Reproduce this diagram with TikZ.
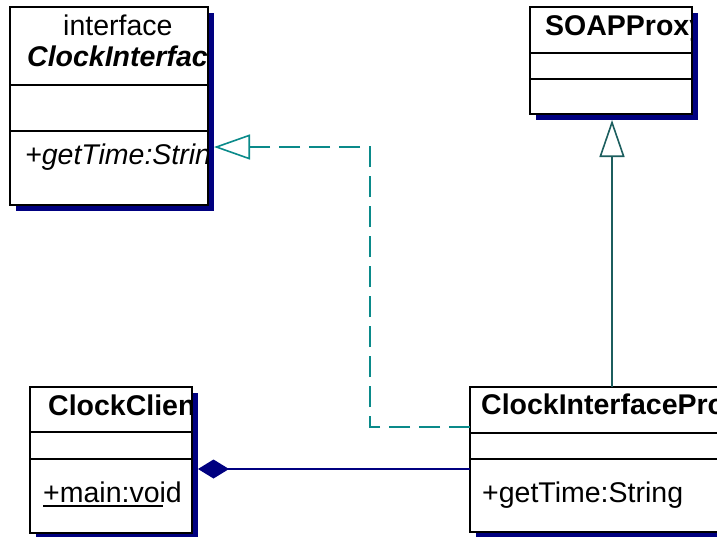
\documentclass[tikz,border=0pt]{standalone}
\usepackage{fontspec}
\setmainfont{Liberation Sans}
\usetikzlibrary{arrows.meta,shadows}

\definecolor{shadownavy}{HTML}{000080}
\definecolor{realteal}{HTML}{0A8A8A}
\definecolor{inhteal}{HTML}{1C5E5E}
\definecolor{compnavy}{HTML}{000080}

\tikzset{
  classbox/.style={draw=black, fill=white, line width=1.9pt, rectangle,
    anchor=north west, inner sep=0pt, outer sep=0pt,
    general shadow={fill=shadownavy, shadow xshift=6pt, shadow yshift=-6pt}},
  divider/.style={draw=black, line width=1.9pt},
  umltext/.style={font=\fontsize{28.5pt}{34pt}\selectfont, inner sep=0pt, anchor=base west},
  realizeline/.style={draw=realteal, line width=1.6pt, dash pattern=on 21pt off 9pt,
    -{Triangle[open, length=36pt, width=25pt, line width=1.6pt]}},
  inheritline/.style={draw=inhteal, line width=1.6pt,
    -{Triangle[open, length=37pt, width=25pt, line width=1.6pt]}},
  compline/.style={draw=compnavy, line width=1.6pt,
    {Diamond[length=31pt, width=19pt]}-}
}

\begin{document}
\begin{tikzpicture}[x=1pt, y=-1pt]
  \clip (0,0) rectangle (717,536);
  \fill[white] (0,0) rectangle (717,536);

  % class boxes
  \node[classbox, minimum width=198pt, minimum height=198pt] (ci) at (10,7) {};
  \node[classbox, minimum width=162pt, minimum height=107pt] (soap) at (530,7) {};
  \node[classbox, minimum width=162pt, minimum height=146pt] (cc) at (30,387) {};
  \node[classbox, minimum width=300pt, minimum height=145pt] (cip) at (470,387) {};

  % compartment dividers
  \draw[divider] ([yshift=-78pt]ci.north west) -- ([yshift=-78pt]ci.north east);
  \draw[divider] ([yshift=-124pt]ci.north west) -- ([yshift=-124pt]ci.north east);
  \draw[divider] ([yshift=-46pt]soap.north west) -- ([yshift=-46pt]soap.north east);
  \draw[divider] ([yshift=-72pt]soap.north west) -- ([yshift=-72pt]soap.north east);
  \draw[divider] ([yshift=-45pt]cc.north west) -- ([yshift=-45pt]cc.north east);
  \draw[divider] ([yshift=-72pt]cc.north west) -- ([yshift=-72pt]cc.north east);
  \draw[divider] ([yshift=-46pt]cip.north west) -- ([yshift=-46pt]cip.north east);
  \draw[divider] ([yshift=-72pt]cip.north west) -- ([yshift=-72pt]cip.north east);

  % texts, clipped to their boxes
  \begin{scope}
    \clip (ci.north west) rectangle (ci.south east);
    \node[umltext] (ciStereo) at (63,35) {interface};
    \node[umltext] (ciName) at (27,66) {\textbf{\textit{ClockInterface}}};
    \node[umltext] (ciOp) at (25,164) {\textit{+getTime:String}};
  \end{scope}
  \begin{scope}
    \clip (soap.north west) rectangle (soap.south east);
    \node[umltext] (soapName) at (545,35) {\textbf{SOAPProxy}};
  \end{scope}
  \begin{scope}
    \clip (cc.north west) rectangle (cc.south east);
    \node[umltext] (ccName) at (48,415) {\textbf{ClockClient}};
    \node[umltext] (ccOp) at (43,502) {+main:void};
    % static member underline
    \draw[line width=1.4pt] ([yshift=-4pt]ccOp.base west) -- ++(120,0);
  \end{scope}
  \begin{scope}
    \clip (cip.north west) rectangle (cip.south east);
    \node[umltext] (cipName) at (481,414) {\textbf{ClockInterfaceProxy}};
    \node[umltext] (cipOp) at (482,502) {+getTime:String};
  \end{scope}

  % helper coordinates for connector routing (tips sit on the shadow edges)
  \coordinate (realY1) at (0,427);
  \coordinate (realX) at (370,0);
  \coordinate (realY2) at (0,147);
  \coordinate (realTip) at ([xshift=6pt]ci.east);
  \coordinate (inhX) at (612,0);
  \coordinate (inhTip) at ([yshift=-6pt]soap.south);
  \coordinate (compY) at (0,469);
  \coordinate (compTip) at ([xshift=6pt]cc.east);

  % realization: ClockInterfaceProxy implements ClockInterface
  \draw[realizeline] (cip.west |- realY1) -| (realX |- realY2) -- (realTip |- realY2);
  % generalization: ClockInterfaceProxy extends SOAPProxy
  \draw[inheritline] (cip.north -| inhX) -- (inhTip -| inhX);
  % composition: ClockClient owns ClockInterfaceProxy
  \draw[compline] (compTip |- compY) -- (cip.west |- compY);
\end{tikzpicture}
\end{document}
